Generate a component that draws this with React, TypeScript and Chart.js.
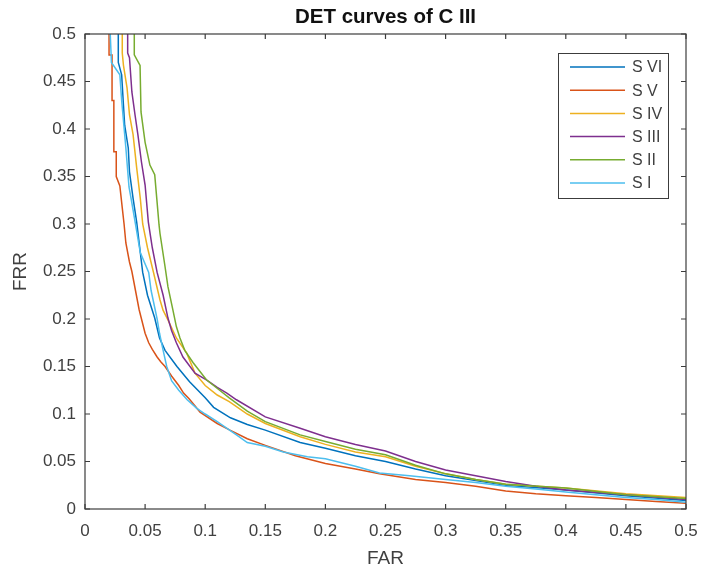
import React, { useEffect, useRef } from 'react';
import { Chart, registerables } from 'chart.js';

Chart.register(...registerables);

const TITLE = 'DET curves of C III';
const X_TITLE = 'FAR';
const Y_TITLE = 'FRR';

const xTickValues = [0, 0.05, 0.1, 0.15, 0.2, 0.25, 0.3, 0.35, 0.4, 0.45, 0.5];
const xTickLabels = ['0', '0.05', '0.1', '0.15', '0.2', '0.25', '0.3', '0.35', '0.4', '0.45', '0.5'];
const yTickValues = [0, 0.05, 0.1, 0.15, 0.2, 0.25, 0.3, 0.35, 0.4, 0.45, 0.5];
const yTickLabels = ['0', '0.05', '0.1', '0.15', '0.2', '0.25', '0.3', '0.35', '0.4', '0.45', '0.5'];

const seriesNames = ['S VI', 'S V', 'S IV', 'S III', 'S II', 'S I'];
const seriesColors = ['#0072BD', '#D95319', '#EDB120', '#7E2F8E', '#77AC30', '#4DBEEE'];

// S VI
const sVI_far = [0.0277, 0.0277, 0.0305, 0.032, 0.033, 0.036, 0.037, 0.04, 0.043, 0.046, 0.048, 0.052, 0.058, 0.062, 0.0666, 0.0765, 0.087, 0.1, 0.107, 0.121, 0.135, 0.15, 0.179, 0.2, 0.225, 0.25, 0.275, 0.3, 0.325, 0.35, 0.4, 0.45, 0.5];
const sVI_frr = [0.5, 0.47, 0.457, 0.425, 0.404, 0.38, 0.355, 0.327, 0.302, 0.27, 0.249, 0.225, 0.201, 0.18, 0.167, 0.15, 0.134, 0.117, 0.107, 0.096, 0.089, 0.083, 0.07, 0.064, 0.056, 0.05, 0.042, 0.035, 0.03, 0.025, 0.02, 0.014, 0.009];
// S V
const sV_far = [0.02, 0.02, 0.0225, 0.0225, 0.024, 0.024, 0.026, 0.026, 0.029, 0.031, 0.0325, 0.034, 0.037, 0.039, 0.042, 0.045, 0.047, 0.05, 0.053, 0.056, 0.06, 0.063, 0.0666, 0.072, 0.078, 0.082, 0.0866, 0.0957, 0.11, 0.1206, 0.135, 0.15, 0.175, 0.2, 0.225, 0.245, 0.275, 0.3, 0.325, 0.35, 0.375, 0.4, 0.425, 0.45, 0.475, 0.5];
const sV_frr = [0.5, 0.478, 0.478, 0.43, 0.43, 0.376, 0.376, 0.35, 0.34, 0.317, 0.3, 0.28, 0.26, 0.25, 0.23, 0.21, 0.2, 0.185, 0.175, 0.168, 0.16, 0.155, 0.15, 0.14, 0.13, 0.122, 0.116, 0.102, 0.09, 0.083, 0.074, 0.067, 0.056, 0.048, 0.042, 0.037, 0.031, 0.028, 0.024, 0.019, 0.016, 0.014, 0.012, 0.01, 0.008, 0.006];
// S IV
const sIV_far = [0.031, 0.031, 0.032, 0.035, 0.037, 0.04, 0.043, 0.046, 0.048, 0.052, 0.057, 0.0624, 0.065, 0.069, 0.076, 0.0846, 0.0915, 0.1, 0.11, 0.12, 0.135, 0.15, 0.179, 0.2, 0.225, 0.25, 0.275, 0.3, 0.325, 0.35, 0.4, 0.45, 0.5];
const sIV_frr = [0.5, 0.48, 0.467, 0.443, 0.415, 0.394, 0.359, 0.327, 0.3, 0.275, 0.249, 0.22, 0.209, 0.199, 0.18, 0.164, 0.143, 0.13, 0.12, 0.113, 0.1, 0.09, 0.076, 0.068, 0.06, 0.055, 0.045, 0.037, 0.031, 0.026, 0.022, 0.016, 0.012];
// S III
const sIII_far = [0.0355, 0.0355, 0.037, 0.039, 0.0416, 0.044, 0.047, 0.05, 0.0527, 0.056, 0.06, 0.065, 0.069, 0.072, 0.076, 0.0815, 0.0915, 0.101, 0.11, 0.118, 0.126, 0.15, 0.179, 0.2, 0.225, 0.25, 0.275, 0.3, 0.325, 0.35, 0.375, 0.4, 0.45, 0.5];
const sIII_frr = [0.5, 0.48, 0.475, 0.439, 0.415, 0.394, 0.365, 0.341, 0.302, 0.275, 0.249, 0.225, 0.201, 0.188, 0.175, 0.16, 0.143, 0.136, 0.128, 0.122, 0.115, 0.097, 0.085, 0.076, 0.068, 0.061, 0.05, 0.041, 0.035, 0.029, 0.024, 0.02, 0.015, 0.01];
// S II
const sII_far = [0.041, 0.041, 0.0458, 0.0466, 0.05, 0.054, 0.058, 0.0597, 0.0616, 0.0624, 0.0666, 0.069, 0.0732, 0.076, 0.079, 0.083, 0.09, 0.101, 0.112, 0.12, 0.135, 0.15, 0.179, 0.2, 0.225, 0.25, 0.275, 0.3, 0.325, 0.35, 0.4, 0.45, 0.5];
const sII_frr = [0.5, 0.478, 0.467, 0.418, 0.386, 0.362, 0.352, 0.327, 0.299, 0.29, 0.255, 0.234, 0.209, 0.192, 0.18, 0.167, 0.154, 0.136, 0.125, 0.117, 0.103, 0.092, 0.078, 0.071, 0.063, 0.057, 0.046, 0.037, 0.031, 0.026, 0.022, 0.015, 0.011];
// S I
const sI_far = [0.021, 0.022, 0.029, 0.0305, 0.034, 0.0366, 0.0386, 0.042, 0.046, 0.053, 0.055, 0.06, 0.062, 0.065, 0.068, 0.072, 0.078, 0.085, 0.093, 0.1, 0.11, 0.126, 0.135, 0.15, 0.165, 0.185, 0.2, 0.225, 0.245, 0.27, 0.3, 0.325, 0.35, 0.375, 0.4, 0.425, 0.45, 0.475, 0.5];
const sI_frr = [0.5, 0.47, 0.457, 0.43, 0.38, 0.339, 0.325, 0.3, 0.27, 0.249, 0.23, 0.2, 0.185, 0.167, 0.15, 0.135, 0.125, 0.115, 0.106, 0.1, 0.092, 0.078, 0.07, 0.066, 0.06, 0.055, 0.053, 0.045, 0.038, 0.035, 0.031, 0.028, 0.024, 0.021, 0.018, 0.015, 0.012, 0.01, 0.007];

const seriesFar = [sVI_far, sV_far, sIV_far, sIII_far, sII_far, sI_far];
const seriesFrr = [sVI_frr, sV_frr, sIV_frr, sIII_frr, sII_frr, sI_frr];

const FONT = '"Liberation Sans", Arial, Helvetica, sans-serif';
const AXIS_COLOR = '#3c3c3c';
const TEXT_COLOR = '#404040';

const decorPlugin = {
  id: 'decor',
  afterDatasetsDraw(chart: any) {
    const { ctx, chartArea: a, scales } = chart;
    const xs = scales.x;
    const ys = scales.y;
    ctx.save();
    ctx.strokeStyle = AXIS_COLOR;
    ctx.lineWidth = 1.2;
    ctx.strokeRect(a.left, a.top, a.right - a.left, a.bottom - a.top);
    const tl = 5;
    ctx.beginPath();
    xTickValues.forEach((v) => {
      const px = xs.getPixelForValue(v);
      ctx.moveTo(px, a.bottom);
      ctx.lineTo(px, a.bottom - tl);
      ctx.moveTo(px, a.top);
      ctx.lineTo(px, a.top + tl);
    });
    yTickValues.forEach((v) => {
      const py = ys.getPixelForValue(v);
      ctx.moveTo(a.left, py);
      ctx.lineTo(a.left + tl, py);
      ctx.moveTo(a.right, py);
      ctx.lineTo(a.right - tl, py);
    });
    ctx.stroke();
    ctx.restore();
  },
  afterDraw(chart: any) {
    const { ctx, chartArea: a } = chart;
    ctx.save();
    ctx.fillStyle = '#111';
    ctx.textAlign = 'center';
    ctx.textBaseline = 'middle';
    ctx.font = `bold 20.5px ${FONT}`;
    ctx.fillText(TITLE, (a.left + a.right) / 2, 17);

    ctx.fillStyle = TEXT_COLOR;
    ctx.font = `19px ${FONT}`;
    ctx.fillText(X_TITLE, (a.left + a.right) / 2, 559);
    ctx.save();
    ctx.translate(21, (a.top + a.bottom) / 2);
    ctx.rotate(-Math.PI / 2);
    ctx.fillText(Y_TITLE, 0, 0);
    ctx.restore();

    // legend
    const bx = 558, by = 53, bw = 110, bh = 145;
    ctx.fillStyle = '#ffffff';
    ctx.fillRect(bx, by, bw, bh);
    ctx.strokeStyle = AXIS_COLOR;
    ctx.lineWidth = 1;
    ctx.strokeRect(bx + 0.5, by + 0.5, bw, bh);
    ctx.font = `16px ${FONT}`;
    ctx.textAlign = 'left';
    seriesNames.forEach((name, i) => {
      const yy = 67 + i * 23.2;
      ctx.strokeStyle = seriesColors[i];
      ctx.lineWidth = 1.5;
      ctx.beginPath();
      ctx.moveTo(570, yy);
      ctx.lineTo(625, yy);
      ctx.stroke();
      ctx.fillStyle = TEXT_COLOR;
      ctx.fillText(name, 632, yy + 1);
    });
    ctx.restore();
  },
};

export default function App() {
  const ref = useRef<HTMLCanvasElement | null>(null);
  useEffect(() => {
    if (!ref.current) return;
    const datasets = seriesNames.map((name, i) => ({
      label: name,
      data: seriesFar[i].map((f, j) => ({ x: f, y: seriesFrr[i][j] })),
      borderColor: seriesColors[i],
      backgroundColor: seriesColors[i],
      borderWidth: 1.5,
      pointRadius: 0,
      showLine: true,
      fill: false,
      tension: 0,
      order: seriesNames.length - i,
    }));
    const chart = new Chart(ref.current, {
      type: 'scatter',
      data: { datasets },
      options: {
        responsive: false,
        animation: false,
        layout: { padding: { left: 0, right: 29, top: 34, bottom: 0 } },
        plugins: {
          legend: { display: false },
          title: { display: false },
          tooltip: { enabled: false },
        },
        scales: {
          x: {
            type: 'linear',
            min: 0,
            max: 0.5,
            grid: { display: false, drawTicks: false },
            border: { display: false },
            afterBuildTicks: (s: any) => {
              s.ticks = xTickValues.map((v) => ({ value: v }));
            },
            afterFit: (s: any) => {
              s.height = 58;
            },
            ticks: {
              padding: 12,
              maxRotation: 0,
              autoSkip: false,
              color: TEXT_COLOR,
              font: { family: FONT, size: 17 },
              callback: (_v: any, i: number) => xTickLabels[i],
            },
          },
          y: {
            type: 'linear',
            min: 0,
            max: 0.5,
            grid: { display: false, drawTicks: false },
            border: { display: false },
            afterBuildTicks: (s: any) => {
              s.ticks = yTickValues.map((v) => ({ value: v }));
            },
            afterFit: (s: any) => {
              s.width = 85;
            },
            ticks: {
              padding: 9,
              autoSkip: false,
              color: TEXT_COLOR,
              font: { family: FONT, size: 17 },
              callback: (_v: any, i: number) => yTickLabels[i],
            },
          },
        },
      },
      plugins: [decorPlugin],
    });
    return () => chart.destroy();
  }, []);
  return (
    <div style={{ position: 'absolute', left: 0, top: 0, width: 715, height: 567, background: '#fff' }}>
      <canvas ref={ref} width={715} height={567} style={{ width: 715, height: 567 }} />
    </div>
  );
}
